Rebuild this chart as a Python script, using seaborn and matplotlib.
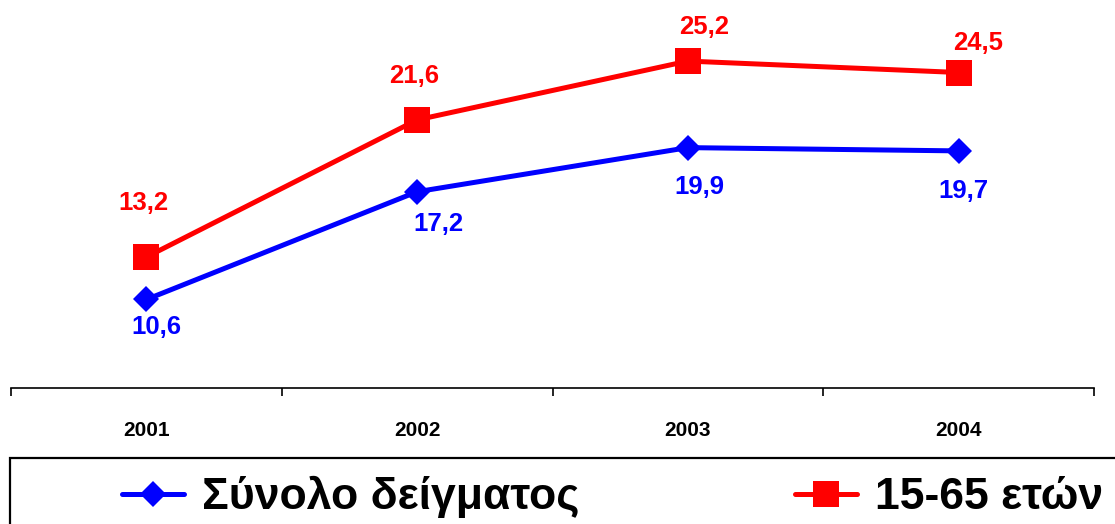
import pandas as pd
import matplotlib
matplotlib.use("Agg")
import matplotlib.pyplot as plt
from matplotlib.patches import Rectangle
import seaborn as sns

years = ["2001", "2002", "2003", "2004"]
total = [10.6, 17.2, 19.9, 19.7]
age_15_65 = [13.2, 21.6, 25.2, 24.5]
series_names = ["Σύνολο δείγματος", "15-65 ετών"]

BLUE = "#0000FF"
RED = "#FF0000"
FONT = ["Liberation Sans", "DejaVu Sans"]

# label offsets in pixels (dx, dy) relative to each marker
blue_off = [(10, -28), (21, -32), (12, -39), (5, -40)]
red_off = [(-3, 54), (-3, 44), (16, 34), (20, 30)]

sns.set_style("white")
plt.rcParams["font.family"] = FONT
plt.rcParams["font.weight"] = "bold"
plt.rcParams["text.color"] = "black"

df = pd.DataFrame({
    "pos": list(range(len(years))) * 2,
    "value": total + age_15_65,
    "series": [series_names[0]] * len(years) + [series_names[1]] * len(years),
})

fig = plt.figure(figsize=(11.15, 5.24), dpi=100)
ax = fig.add_axes([11 / 1115, 136 / 524, 1083 / 1115, 388 / 524])

sns.lineplot(data=df[df.series == series_names[0]], x="pos", y="value",
             color=BLUE, marker="D", markersize=13, linewidth=3.6,
             markeredgewidth=0, ax=ax, label=series_names[0], legend=False)
sns.lineplot(data=df[df.series == series_names[1]], x="pos", y="value",
             color=RED, marker="s", markersize=18.5, linewidth=3.6,
             markeredgewidth=0, ax=ax, label=series_names[1], legend=False)

for i, v in enumerate(total):
    ax.annotate(f"{v:.1f}".replace(".", ","), (i, v), xytext=blue_off[i],
                textcoords="offset pixels", ha="center", va="center",
                color=BLUE, fontsize=18.5, fontweight="bold", family=FONT)
for i, v in enumerate(age_15_65):
    ax.annotate(f"{v:.1f}".replace(".", ","), (i, v), xytext=red_off[i],
                textcoords="offset pixels", ha="center", va="center",
                color=RED, fontsize=18.5, fontweight="bold", family=FONT)

ax.set_xlim(-0.5, len(years) - 0.5)
ax.set_ylim(5.18, 28.94)
ax.set_xticks(range(len(years)))
ax.set_xticklabels(years, fontsize=15, fontweight="bold", family=FONT,
                   color="black")
ax.set_xticks([i - 0.5 for i in range(len(years) + 1)], minor=True)
ax.tick_params(axis="x", which="both", bottom=True)
ax.tick_params(axis="x", which="major", length=0, pad=23.5)
ax.tick_params(axis="x", which="minor", length=5.5, width=1.2,
               direction="out", color="black")
ax.set_yticks([])
ax.set_xlabel("")
ax.set_ylabel("")
for sp in ["top", "left", "right"]:
    ax.spines[sp].set_visible(False)
ax.spines["bottom"].set_color("black")
ax.spines["bottom"].set_linewidth(1.2)
ax.patch.set_alpha(0)

# legend frame running off the bottom and right of the picture
fig.add_artist(Rectangle((10 / 1115, -0.1), 1.2, (524 - 458) / 524 + 0.1,
                         transform=fig.transFigure, fill=False,
                         edgecolor="black", linewidth=1.6))
handles, labels = ax.get_legend_handles_labels()
leg = fig.legend(handles, labels, ncol=2, frameon=False, loc="center left",
                 bbox_to_anchor=(122 / 1115, 1 - 497 / 524),
                 prop={"family": FONT, "weight": "bold", "size": 32},
                 handlelength=1.4, handletextpad=0.4, columnspacing=4.85,
                 borderpad=0, borderaxespad=0)
for t in leg.get_texts():
    t.set_color("black")

fig.savefig("out.png", dpi=100)
